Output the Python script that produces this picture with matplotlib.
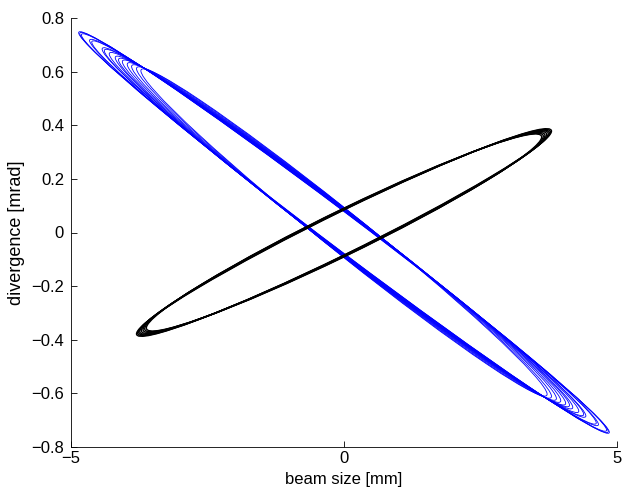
import numpy as np
import matplotlib.pyplot as plt
from matplotlib.patches import Ellipse

plt.rc('font', family=['Liberation Sans', 'DejaVu Sans'], size=12)

##################
## Ellipse data
##################
# blue family: tip position (x_max, x' at x_max) and x' where the ellipse crosses x=0
blue_xmax  = [4.86, 4.84, 4.81, 4.66, 4.62, 4.43, 4.39, 4.30, 4.19, 4.13, 4.06, 3.97, 3.89, 3.80, 3.72]
blue_xpat  = [-0.745, -0.742, -0.737, -0.716, -0.710, -0.684, -0.678, -0.666, -0.652, -0.644, -0.637, -0.627, -0.619, -0.611, -0.603]
blue_xp0   = [0.078, 0.079, 0.080, 0.082, 0.083, 0.085, 0.086, 0.087, 0.088, 0.089, 0.090, 0.091, 0.092, 0.093, 0.094]

# black family
black_xmax = [3.80, 3.78, 3.76, 3.74, 3.71, 3.68, 3.65, 3.62]
black_xpat = [0.378, 0.375, 0.372, 0.369, 0.366, 0.362, 0.359, 0.356]
black_xp0  = [0.084, 0.085, 0.086, 0.087, 0.088, 0.089, 0.090, 0.091]

xticks = [-5, 0, 5]
yticks = [-0.8, -0.6, -0.4, -0.2, 0, 0.2, 0.4, 0.6, 0.8]


def beam_ellipse(xmax, xpat, xp0, color, lw):
    # sigma matrix of the ellipse from tip and x=0 crossing
    eps = xmax*xp0
    sxy = xmax*xpat
    syy = (eps**2 + sxy**2)/xmax**2
    sig = np.array([[xmax**2, sxy], [sxy, syy]])
    vals, vecs = np.linalg.eigh(sig)
    ang = np.degrees(np.arctan2(vecs[1, 1], vecs[0, 1]))
    return Ellipse((0, 0), 2*np.sqrt(vals[1]), 2*np.sqrt(vals[0]), angle=ang,
                   fill=False, edgecolor=color, linewidth=lw)


fig = plt.figure(figsize=(6.22, 4.87), dpi=100)
ax = fig.add_axes([71/622, 1-447/487, 546/622, 429/487])

for a, b, c in zip(blue_xmax, blue_xpat, blue_xp0):
    ax.add_patch(beam_ellipse(a, b, c, 'blue', 0.6))
for a, b, c in zip(black_xmax, black_xpat, black_xp0):
    ax.add_patch(beam_ellipse(a, b, c, 'black', 1.0))

ax.set_xlim(-5, 5)
ax.set_ylim(-0.8, 0.8)
ax.set_xticks(xticks)
ax.set_yticks(yticks)
ax.set_xticklabels(['\u22125', '0', '5'])
ax.set_yticklabels([('\u2212' if v < 0 else '') + ('0' if v == 0 else '%.1f' % abs(v)) for v in yticks])
ax.tick_params(direction='in', length=4, width=0.6, labelsize=12)
ax.tick_params(axis='y', pad=5)
ax.tick_params(axis='x', pad=3)
ax.spines['top'].set_visible(False)
ax.spines['right'].set_visible(False)
ax.spines['left'].set_linewidth(0.6)
ax.spines['bottom'].set_linewidth(0.6)
ax.set_xlabel('beam size [mm]', fontsize=12)
ax.set_ylabel('divergence [mrad]', fontsize=13)
ax.xaxis.set_label_coords(0.5, -0.058)
ax.yaxis.set_label_coords(-0.085, 0.5)

fig.savefig('out.png', dpi=100)
